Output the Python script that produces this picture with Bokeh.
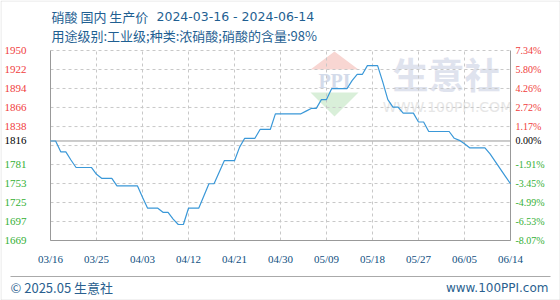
import pandas as pd
from bokeh.plotting import figure
from bokeh.models import (Range1d, Label, LabelSet, ColumnDataSource, BoxAnnotation, PolyAnnotation)
from bokeh.embed import file_html
from bokeh.resources import INLINE

# ---------------- data ----------------
start_date = "2024-03-16"
end_date = "2024-06-14"
prices = [1816, 1816, 1800, 1800, 1788, 1777, 1777, 1777, 1777, 1767,
          1761, 1761, 1761, 1750, 1750, 1750, 1750, 1750, 1733, 1717,
          1717, 1717, 1711, 1711, 1701, 1693, 1693, 1717, 1717, 1717,
          1735, 1753, 1753, 1770, 1787, 1787, 1787, 1807, 1820, 1820,
          1820, 1833, 1833, 1833, 1856, 1856, 1856, 1856, 1856, 1856,
          1860, 1864, 1864, 1877, 1877, 1893, 1893, 1893, 1893, 1905,
          1914, 1914, 1927, 1927, 1927, 1903, 1877, 1866, 1866, 1857,
          1857, 1857, 1844, 1844, 1830, 1830, 1830, 1830, 1830, 1820,
          1817, 1812, 1806, 1806, 1806, 1806, 1797, 1786, 1775, 1764,
          1753]
base_price = 1816
left_labels = ["1950", "1922", "1894", "1866", "1838", "1816", "1781", "1753", "1725", "1697", "1669"]
right_pcts = [7.34, 5.80, 4.26, 2.72, 1.17, 0.00, -1.91, -3.45, -4.99, -6.53, -8.07]
x_tick_labels = ["03/16", "03/25", "04/03", "04/12", "04/21", "04/30", "05/09", "05/18", "05/27", "06/05", "06/14"]
title_name = "硝酸 国内 生产价"
title_dates = "2024-03-16 - 2024-06-14"
title_line2 = "用途级别:工业级;种类:浓硝酸;硝酸的含量:98%"
footer_left = "© 2025.05 生意社"
footer_right = "www.100PPI.com"

dates = pd.date_range(start_date, end_date, freq="D")
tick_dates = [pd.Timestamp(f"2024-{lbl.replace('/', '-')}") for lbl in x_tick_labels]
tick_ms = [d.timestamp() * 1000 for d in tick_dates]

level_vals = [base_price * (1 + p / 100) for p in right_pcts]
grid_levels = [v for v, p in zip(level_vals, right_pcts) if p != 0] + [(level_vals[4] + level_vals[6]) / 2]

RED, GREEN, BLACK = "#f03c3c", "#35b035", "#000000"
def col(p):
    return RED if p > 0 else (GREEN if p < 0 else BLACK)
colors = [col(p) for p in right_pcts]
right_text = [f"{p:.2f}%" for p in right_pcts]

# ---------------- layout (pixels) ----------------
W, H = 560, 300
PL, PR, PT, PB = 50, 510, 50, 240   # plot area inside the canvas

t0, t1 = tick_ms[0], tick_ms[-1]
xpp = (t1 - t0) / (PR - PL)
v_top, v_bot = level_vals[0], level_vals[-1]
ypp = (v_top - v_bot) / (PB - PT)

p = figure(width=W, height=H, output_backend="svg", toolbar_location=None,
           x_axis_location=None, y_axis_location=None,
           min_border=0, min_border_left=0, min_border_right=0, min_border_top=0, min_border_bottom=0,
           x_range=Range1d(t0 - PL * xpp, t1 + (W - PR) * xpp),
           y_range=Range1d(v_bot - (H - PB) * ypp, v_top + PT * ypp))
p.outline_line_color = None
p.xgrid.visible = False
p.ygrid.visible = False
p.background_fill_color = "white"

def sx(cx):
    return cx
def sy(cy):
    return H - cy

# watermark
wm = dict(level="image")
p.add_layout(PolyAnnotation(xs=[sx(334), sx(310), sx(358)], ys=[sy(51), sy(69), sy(69)],
                            xs_units="screen", ys_units="screen", fill_color="#f8d6d2", fill_alpha=1,
                            line_color=None, **wm))
p.add_layout(PolyAnnotation(xs=[sx(310), sx(358), sx(334)], ys=[sy(92), sy(92), sy(116)],
                            xs_units="screen", ys_units="screen", fill_color="#d9efd9", fill_alpha=1,
                            line_color=None, **wm))
p.add_layout(Label(x=sx(334), y=sy(80), x_units="screen", y_units="screen", text="PPI",
                   text_align="center", text_baseline="middle", text_font="Liberation Serif",
                   text_font_style="bold", text_font_size="20px", text_color="#d3dbea", **wm))
p.add_layout(Label(x=sx(446), y=sy(72), x_units="screen", y_units="screen", text="生意社",
                   text_align="center", text_baseline="middle", text_font="Noto Sans CJK SC",
                   text_font_style="bold", text_font_size="36px", text_color="#dfe3ee", **wm))
p.add_layout(Label(x=sx(447), y=sy(106), x_units="screen", y_units="screen", text="WWW.100PPI.COM",
                   text_align="center", text_baseline="middle", text_font="DejaVu Sans",
                   text_font_size="14px", text_color="#e6e6e6", **wm))

# grid lines (dashed)
n_v = len(tick_ms)
p.segment(x0=tick_ms, x1=tick_ms, y0=[v_bot] * n_v, y1=[v_top] * n_v,
          line_color="#c8c8c8", line_dash="3 3", line_width=1)
n_h = len(grid_levels)
p.segment(x0=[t0] * n_h, x1=[t1] * n_h, y0=grid_levels, y1=grid_levels,
          line_color="#c8c8c8", line_dash="3 3", line_width=1)

# axis lines + base line (solid)
p.segment(x0=[t0, t1, t0, t0], x1=[t0, t1, t1, t1],
          y0=[v_bot, v_bot, v_bot, base_price], y1=[v_top, v_top, v_bot, base_price],
          line_color="#999999", line_width=1)

# price line
src = ColumnDataSource(dict(x=dates, y=prices))
p.line("x", "y", source=src, line_color="#3a98d8", line_width=1.2)

# y tick labels (coloured)
left_src = ColumnDataSource(dict(y=level_vals, text=left_labels, color=colors,
                                 x=[sx(4)] * len(level_vals)))
p.add_layout(LabelSet(x="x", y="y", text="text", source=left_src, x_units="screen", y_units="data",
                      text_color="color", text_align="left", text_baseline="middle",
                      text_font="Liberation Sans", text_font_size="11px"))
right_src = ColumnDataSource(dict(y=level_vals, text=right_text, color=colors,
                                  x=[sx(515)] * len(level_vals)))
p.add_layout(LabelSet(x="x", y="y", text="text", source=right_src, x_units="screen", y_units="data",
                      text_color="color", text_align="left", text_baseline="middle",
                      text_font="DejaVu Sans Mono", text_font_size="10px"))

# x tick labels
x_src = ColumnDataSource(dict(x=tick_ms, text=x_tick_labels, y=[sy(258)] * len(tick_ms)))
p.add_layout(LabelSet(x="x", y="y", text="text", source=x_src, x_units="data", y_units="screen",
                      text_color="#10507f", text_align="center", text_baseline="middle",
                      text_font="Liberation Sans", text_font_size="11px"))

# titles
TCOL = "#1f5f92"
p.add_layout(Label(x=sx(51), y=sy(16), x_units="screen", y_units="screen", text=title_name,
                   text_baseline="middle", text_font="Noto Sans CJK SC", text_font_size="13px",
                   text_color=TCOL))
p.add_layout(Label(x=sx(156), y=sy(16), x_units="screen", y_units="screen", text=title_dates,
                   text_baseline="middle", text_font="DejaVu Sans", text_font_size="12.5px",
                   text_color=TCOL))
p.add_layout(Label(x=sx(51), y=sy(35), x_units="screen", y_units="screen", text=title_line2,
                   text_baseline="middle", text_font="Noto Sans CJK SC", text_font_size="13px",
                   text_color=TCOL))

# footer
p.add_layout(BoxAnnotation(left=sx(10), right=sx(550), top=sy(275.5), bottom=sy(276.5),
                           left_units="screen", right_units="screen", top_units="screen",
                           bottom_units="screen", fill_color="#aaaaaa", fill_alpha=1, line_color=None))
p.add_layout(Label(x=sx(10), y=sy(287), x_units="screen", y_units="screen", text=footer_left,
                   text_baseline="middle", text_font="Noto Sans CJK SC", text_font_size="13px",
                   text_color="#2a5f8f"))
p.add_layout(Label(x=sx(548), y=sy(287), x_units="screen", y_units="screen", text=footer_right,
                   text_align="right", text_baseline="middle", text_font="DejaVu Sans",
                   text_font_size="12px", text_color="#2a5f8f"))

# outer border
p.add_layout(BoxAnnotation(left=sx(0.5), right=sx(559.5), top=sy(0.5), bottom=sy(299.5),
                           left_units="screen", right_units="screen", top_units="screen",
                           bottom_units="screen", fill_alpha=0, line_color="#aaaaaa", line_width=1))

open("out.html", "w").write(file_html(p, INLINE))
